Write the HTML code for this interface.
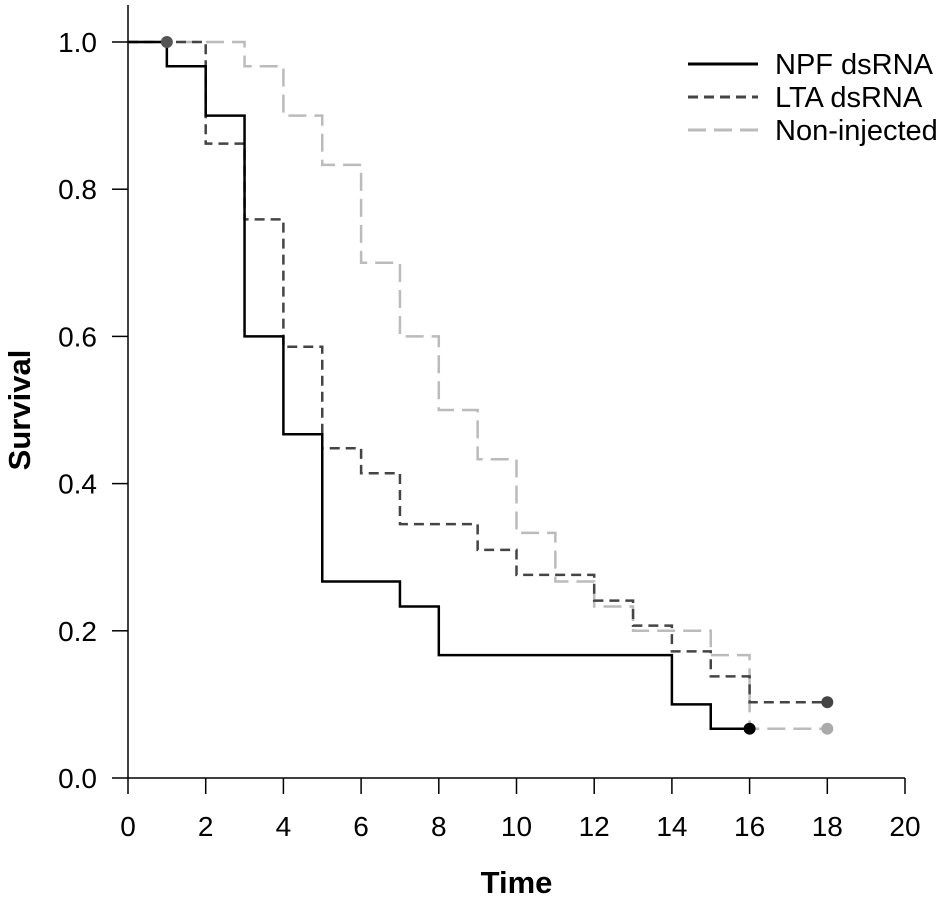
<!DOCTYPE html>
<html><head><meta charset="utf-8"><style>
html,body{margin:0;padding:0;background:#fff;}
svg{display:block;font-family:"Liberation Sans",Arial,sans-serif;}
</style></head><body>
<svg id="chart" width="945" height="899"></svg>
<script>
const xTicks=[0,2,4,6,8,10,12,14,16,18,20];
const yTicks=[0.0,0.2,0.4,0.6,0.8,1.0];
const npfTimes=[0,1,2,3,4,5,7,8,14,15,16];
const npfSurv=[1.0,0.967,0.9,0.6,0.467,0.267,0.233,0.167,0.1,0.067,0.067];
const ltaTimes=[0,2,3,4,5,6,7,9,10,12,13,14,15,16,18];
const ltaSurv=[1.0,0.862,0.759,0.586,0.448,0.414,0.345,0.310,0.276,0.241,0.207,0.172,0.138,0.103,0.103];
const nonTimes=[0,3,4,5,6,7,8,9,10,11,12,13,15,16,18];
const nonSurv=[1.0,0.967,0.9,0.833,0.7,0.6,0.5,0.433,0.333,0.267,0.233,0.2,0.167,0.067,0.067];
const seriesNames=["NPF dsRNA","LTA dsRNA","Non-injected"];

const svg=document.getElementById('chart');
const NS='http://www.w3.org/2000/svg';
const X0=128,X1=905,Y0=778,Y1=42;
const xs=t=>X0+(X1-X0)*t/20;
const ys=v=>Y0-(Y0-Y1)*v;
function mk(tag,attrs,parent){const e=document.createElementNS(NS,tag);for(const k in attrs)e.setAttribute(k,attrs[k]);(parent||svg).appendChild(e);return e;}

const ax=mk('line',{x1:X0,y1:5,x2:X0,y2:Y0,stroke:'#000','stroke-width':1.5});


const axx=mk('line',{x1:X0,y1:Y0,x2:X1,y2:Y0,stroke:'#000','stroke-width':1.5});


xTicks.forEach(t=>{
  mk('line',{x1:xs(t),y1:Y0,x2:xs(t),y2:Y0+16,stroke:'#000','stroke-width':1.5});
  const tx=mk('text',{x:xs(t),y:Y0+58,'text-anchor':'middle','font-size':28});
  tx.textContent=t;
  
  
});
yTicks.forEach(v=>{
  mk('line',{x1:X0-16,y1:ys(v),x2:X0,y2:ys(v),stroke:'#000','stroke-width':1.5});
  const tx=mk('text',{x:X0-31,y:ys(v)+10,'text-anchor':'end','font-size':28});
  tx.textContent=v.toFixed(1);
  
  
});
const xt=mk('text',{x:(X0+X1)/2,y:893,'text-anchor':'middle','font-size':31,'font-weight':'bold'});
xt.textContent='Time';


const yt=mk('text',{x:0,y:0,'text-anchor':'middle','font-size':31,'font-weight':'bold',transform:'translate(30,'+((Y0+Y1)/2)+') rotate(-90)'});
yt.textContent='Survival';



function step(times,surv){
  let d='M'+xs(times[0])+','+ys(surv[0]);
  for(let i=1;i<times.length;i++){d+=' H'+xs(times[i])+' V'+ys(surv[i]);}
  return d;
}
const styles=[
 {stroke:'#000',dash:'',w:2.5,name:'npf-dsrna-line'},
 {stroke:'#444',dash:'10,6',w:2.5,name:'lta-dsrna-line'},
 {stroke:'#bbb',dash:'18,8',w:2.5,name:'non-injected-line'}];
const data=[[npfTimes,npfSurv],[ltaTimes,ltaSurv],[nonTimes,nonSurv]];
[2,1,0].forEach(i=>{
  const p=mk('path',{d:step(data[i][0],data[i][1]),fill:'none',stroke:styles[i].stroke,'stroke-width':styles[i].w,'stroke-dasharray':styles[i].dash});
  
  
});
const markers=[[1,1.0,'#555'],[npfTimes[npfTimes.length-1],npfSurv[npfSurv.length-1],'#000'],
 [ltaTimes[ltaTimes.length-1],ltaSurv[ltaSurv.length-1],'#444'],[nonTimes[nonTimes.length-1],nonSurv[nonSurv.length-1],'#aaa']];
markers.forEach(m=>{
  const c=mk('circle',{cx:xs(m[0]),cy:ys(m[1]),r:6,fill:m[2]});
  
  
});
seriesNames.forEach((n,i)=>{
  const y=64+i*33;
  const g=mk('g',{});
  
  
  mk('line',{x1:688,y1:y,x2:758,y2:y,stroke:styles[i].stroke,'stroke-width':3,'stroke-dasharray':styles[i].dash},g);
  const t=mk('text',{x:775,y:y+10,'font-size':29},g);
  t.textContent=n;
});
</script>
</body></html>
